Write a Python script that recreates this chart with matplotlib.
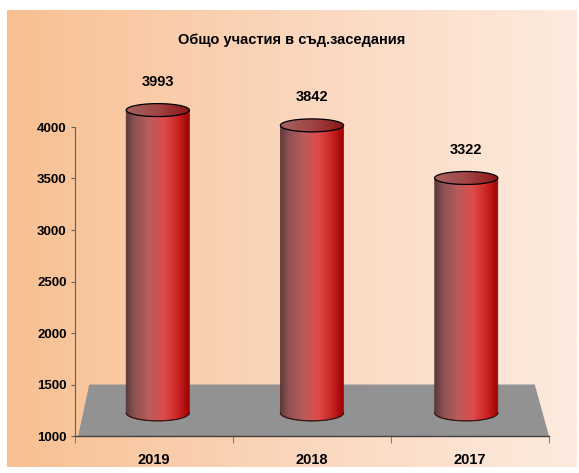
import numpy as np
import matplotlib
matplotlib.use("Agg")
import matplotlib.pyplot as plt
from matplotlib import font_manager
from matplotlib.colors import LinearSegmentedColormap
from matplotlib.patches import Polygon

years = ["2019", "2018", "2017"]
values = [3993, 3842, 3322]
yticks = [1000, 1500, 2000, 2500, 3000, 3500, 4000]
title = "Общо участия в съд.заседания"

names = {f.name for f in font_manager.fontManager.ttflist}
fam = "Liberation Sans Narrow" if "Liberation Sans Narrow" in names else "Liberation Sans"
plt.rcParams["font.family"] = [fam, "DejaVu Sans"]
plt.rcParams["font.weight"] = "bold"

W, H = 579, 473
fig = plt.figure(figsize=(W / 100, H / 100), dpi=100)
fig.patch.set_facecolor("white")

# gradient backdrop panel
bg = fig.add_axes([7 / W, 6 / H, 570 / W, 457 / H])
bg_cmap = LinearSegmentedColormap.from_list("bg", ["#f8c092", "#fbd6bc", "#fdebdf"])
bg.imshow(np.linspace(0, 1, 256)[None, :], cmap=bg_cmap, aspect="auto", extent=[0, 1, 0, 1])
bg.set_axis_off()

# main plot: y from 1000 (px 436) with 0.103 px per unit
base, ymax = 1000, 4900
ppu = 309 / 3000
ax = fig.add_axes([75 / W, (H - 436) / H, 474 / W, (ymax - base) * ppu / H])
ax.set_facecolor("none")
ax.set_xlim(0, 3)
ax.set_ylim(base, ymax)

# grey floor
floor = Polygon([(0.02, 1000), (3.0, 1000), (2.91, 1500), (0.09, 1500)],
                closed=True, facecolor="#929292", edgecolor="none", zorder=1)
ax.add_patch(floor)

body_cmap = LinearSegmentedColormap.from_list(
    "body", [(0, "#5a3a3a"), (0.12, "#8a5050"), (0.35, "#b85c5c"),
             (0.6, "#df4b4b"), (0.82, "#c82222"), (1.0, "#990000")])
top_cmap = LinearSegmentedColormap.from_list(
    "top", [(0, "#a86262"), (0.5, "#a04444"), (1.0, "#8c1414")])

r, e_top, e_bot = 0.2, 63, 78
off, k = 225, 0.982
grad = np.linspace(0, 1, 256)[None, :]

for i, v in enumerate(values):
    # slight perspective pull toward the middle
    xc = i + 0.5 + (1 - i) * 0.024
    bot = base + off
    top = base + off + (v - base) * k
    t = np.linspace(np.pi, 2 * np.pi, 80)
    bx = np.concatenate([[xc - r], xc + r * np.cos(t), [xc + r], xc + r * np.cos(t[::-1])])
    by = np.concatenate([[top], bot + e_bot * np.sin(t), [top], top + e_top * np.sin(t[::-1])])
    body = Polygon(np.column_stack([bx, by]), closed=True, transform=ax.transData,
                   facecolor="none", edgecolor="#5a2a2a", lw=0.5, zorder=4)
    im = ax.imshow(grad, cmap=body_cmap, aspect="auto", zorder=3,
                   extent=[xc - r, xc + r, bot - e_bot, top])
    im.set_clip_path(body)
    ax.add_patch(body)
    ax.plot(xc + r * np.cos(t), bot + e_bot * np.sin(t), color="#3a1515", lw=0.9, zorder=5)

    ta = np.linspace(0, 2 * np.pi, 120)
    cap = Polygon(np.column_stack([xc + r * np.cos(ta), top + e_top * np.sin(ta)]),
                  closed=True, transform=ax.transData, facecolor="none",
                  edgecolor="black", lw=0.9, zorder=6)
    im2 = ax.imshow(grad, cmap=top_cmap, aspect="auto", zorder=5,
                    extent=[xc - r, xc + r, top - e_top, top + e_top])
    im2.set_clip_path(cap)
    ax.add_patch(cap)

    ax.text(xc, top + 275, str(v), ha="center", va="center", fontsize=10.5,
            fontweight="bold", zorder=7)

ax.set_xlim(0, 3)
ax.set_ylim(base, ymax)

for s in ["top", "right"]:
    ax.spines[s].set_visible(False)
ax.spines["left"].set_bounds(1000, 4000)
ax.spines["left"].set_color("#606060")
ax.spines["left"].set_linewidth(0.8)
ax.spines["bottom"].set_color("#404040")
ax.spines["bottom"].set_linewidth(1.0)
ax.spines["bottom"].set_zorder(2)

ax.set_yticks(yticks)
ax.set_yticklabels([str(y) for y in yticks], fontsize=9.5, fontweight="bold")
ax.tick_params(axis="y", direction="out", length=3, width=0.8, color="#606060", pad=3)

ax.set_xticks([0, 1, 2, 3])
ax.set_xticklabels([])
ax.set_xticks([0.5, 1.5, 2.5], minor=True)
ax.set_xticklabels(years, minor=True, fontsize=10.5, fontweight="bold")
ax.tick_params(axis="x", which="major", direction="out", length=5, width=0.8, color="#808080")
ax.tick_params(axis="x", which="minor", length=0, pad=12)

fig.text(292 / W, 1 - 40 / H, title, ha="center", va="center", fontsize=10.5, fontweight="bold")

fig.savefig("out.png", dpi=100)
